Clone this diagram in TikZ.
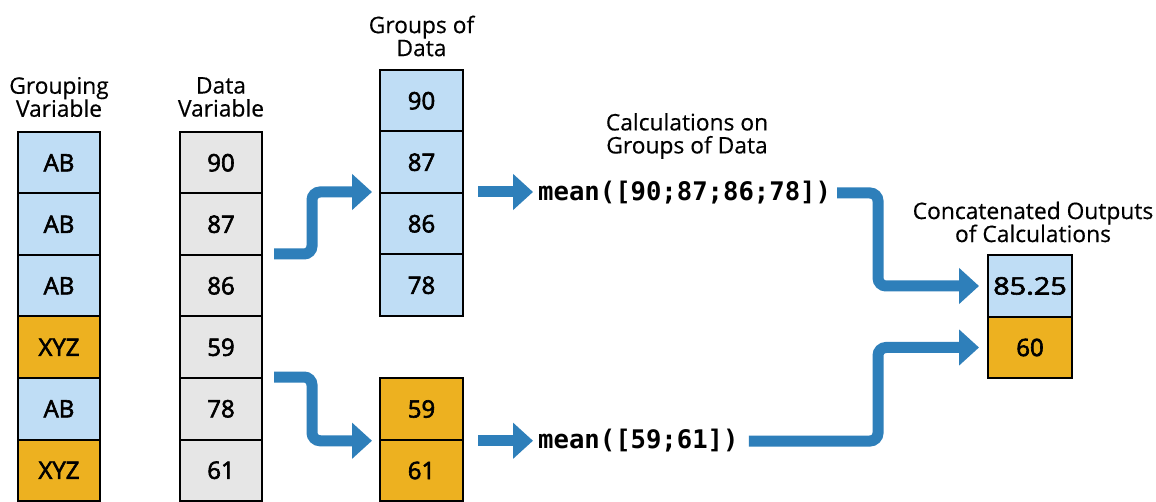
\documentclass[tikz,border=0pt]{standalone}
\usepackage{fontspec}
\setmainfont{Open Sans}[FakeBold=0.4]
\newfontfamily\cellfont{Open Sans}[FakeBold=2.5]
\newfontfamily\codefont{DejaVu Sans Mono}
\usetikzlibrary{arrows.meta,calc}
\definecolor{lblue}{HTML}{BFDDF5}
\definecolor{orng}{HTML}{EDB120}
\definecolor{lgray}{HTML}{E6E6E6}
\definecolor{flowblue}{HTML}{2E7FBA}
\begin{document}
\begin{tikzpicture}[x=1pt,y=-1pt,
 cell/.style={draw=black,line width=2pt,minimum width=82pt,minimum height=61.5pt,inner sep=0pt,font=\cellfont\fontsize{24}{26}\selectfont},
 bcell/.style={cell,fill=lblue},
 ocell/.style={cell,fill=orng},
 gcell/.style={cell,fill=lgray},
 lbl/.style={align=center,font=\fontsize{22.8}{23}\selectfont,inner sep=0pt},
 code/.style={font=\codefont\bfseries\fontsize{25.6}{28}\selectfont,inner sep=0pt,anchor=west},
 flow/.style={draw=flowblue,line width=11pt,rounded corners=8pt,-{Triangle[length=20pt,width=35pt]}}]
\useasboundingbox[fill=white] (0,0) rectangle (1156,502);

% labels
\node[lbl] (lg) at (59,97) {Grouping\\Variable};
\node[lbl] (ld) at (221,97) {Data\\Variable};
\node[lbl] (la) at (421.5,36) {Groups of\\Data};
\node[lbl] (lc) at (687,136) {Calculations on\\Groups of Data};
\node[lbl] (lo) at (1033,222) {Concatenated Outputs\\of Calculations};

% grouping variable
\node[bcell] (g1) at (59,162.75) {AB};
\node[bcell] (g2) at (59,224.25) {AB};
\node[bcell] (g3) at (59,285.75) {AB};
\node[ocell] (g4) at (59,347.25) {XYZ};
\node[bcell] (g5) at (59,408.75) {AB};
\node[ocell] (g6) at (59,470.25) {XYZ};

% data variable
\node[gcell] (d1) at (221,162.75) {90};
\node[gcell] (d2) at (221,224.25) {87};
\node[gcell] (d3) at (221,285.75) {86};
\node[gcell] (d4) at (221,347.25) {59};
\node[gcell] (d5) at (221,408.75) {78};
\node[gcell] (d6) at (221,470.25) {61};

% groups of data
\node[bcell,minimum width=83pt] (a1) at (421.5,100.75) {90};
\node[bcell,minimum width=83pt] (a2) at (421.5,162.25) {87};
\node[bcell,minimum width=83pt] (a3) at (421.5,223.75) {86};
\node[bcell,minimum width=83pt] (a4) at (421.5,285.25) {78};
\node[ocell,minimum width=83pt] (b1) at (421.5,409) {59};
\node[ocell,minimum width=83pt] (b2) at (421.5,470.5) {61};

% outputs
\node[bcell,minimum width=84pt] (o1) at (1030,286) {\scalebox{1.2}[1]{85.25}};
\node[ocell,minimum width=84pt] (o2) at (1030,347.5) {60};

% calculations
\node[code] (m1) at (538,193) {mean([90;87;86;78])};
\node[code] (m2) at (538,441) {mean([59;61])};

% connectors
\coordinate (s1) at ([xshift=11pt]d3.north east);
\coordinate (s2) at ([xshift=11pt]d5.north east);
\draw[flow] (s1) -- ++(38,0) |- ([xshift=-7pt]a3.north west);
\draw[flow] (s2) -- ++(38,0) |- ([xshift=-7pt]b1.south west);

\coordinate (t1) at ([xshift=14pt]a3.north east);
\coordinate (t2) at ([xshift=14pt]b1.south east);
\draw[flow] (t1) -- ([xshift=-5pt]t1 -| m1.west);
\draw[flow] (t2) -- ([xshift=-5pt]t2 -| m2.west);

\coordinate (u1) at ([xshift=6pt]m1.east);
\coordinate (u2) at ([xshift=10pt]m2.east);
\draw[flow] (u1) -- ([xshift=-109pt]u1 -| o1.west) |- ([xshift=-8pt]o1.west);
\draw[flow] (u2) -- ([xshift=-109pt]u2 -| o2.west) |- ([xshift=-8pt]o2.west);
\end{tikzpicture}
\end{document}
